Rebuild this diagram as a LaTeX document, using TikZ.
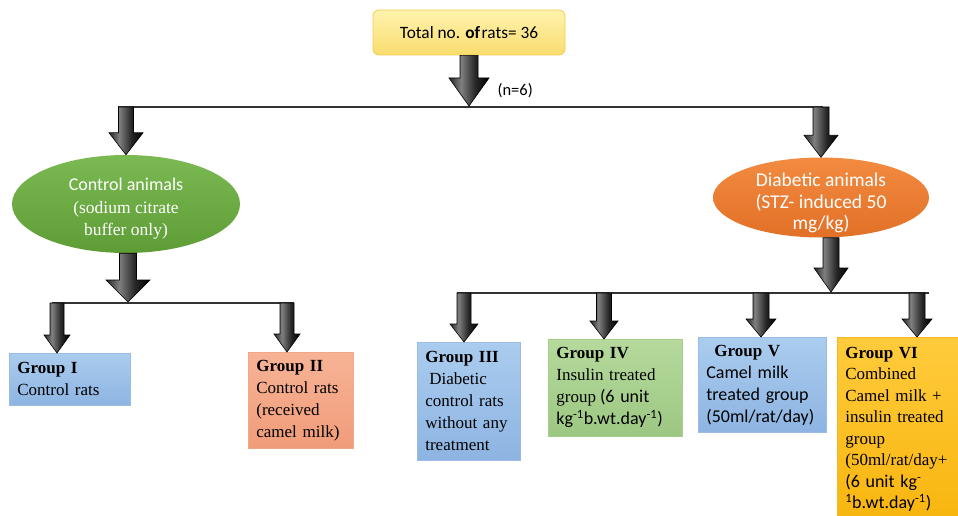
\documentclass[tikz,border=0pt]{standalone}
\usepackage{fontspec}
\setmainfont{Liberation Serif}
\newfontfamily\calibri{Carlito}
\usetikzlibrary{shapes.geometric,calc}
\definecolor{ytop}{HTML}{FFF3AE}
\definecolor{ybot}{HTML}{F9DC6E}
\definecolor{yedge}{HTML}{F0CC50}
\definecolor{gtop}{HTML}{7BBA52}
\definecolor{gbot}{HTML}{5E9C36}
\definecolor{otop}{HTML}{F28B40}
\definecolor{obot}{HTML}{E27027}
\definecolor{btop}{HTML}{AACCEE}
\definecolor{bbot}{HTML}{8DB4E2}
\definecolor{bedge}{HTML}{9BBCE4}
\definecolor{stop}{HTML}{F7B396}
\definecolor{sbot}{HTML}{F09C79}
\definecolor{sedge}{HTML}{F2A886}
\definecolor{lgtop}{HTML}{B5DA9C}
\definecolor{lgbot}{HTML}{9CC782}
\definecolor{lgedge}{HTML}{A6CF8C}
\definecolor{autop}{HTML}{FFCB3C}
\definecolor{aubot}{HTML}{F8B50E}
\definecolor{auedge}{HTML}{F5B82A}
\pgfdeclarehorizontalshading{arrshade}{100bp}{color(0bp)=(black!85); color(25bp)=(black!85);
  color(40bp)=(black!50); color(58bp)=(black!85); color(75bp)=(black); color(100bp)=(black)}
\newcommand\blockarr[5]{%
  \path[arrowshade] let \p1=(#1), \p2=(#2) in
    (\x2-#3pt,\y1) -- (\x2+#3pt,\y1) -- (\x2+#3pt,\y2+#5pt) -- (\x2+#4pt,\y2+#5pt)
    -- (\x2,\y2) -- (\x2-#4pt,\y2+#5pt) -- (\x2-#3pt,\y2+#5pt) -- cycle;}
\tikzset{
  arrowshade/.style={draw=black, line width=0.6pt, shading=arrshade},
  hline/.style={draw=black!80, line width=1.6pt},
  grpbox/.style={anchor=north west, inner xsep=8pt, inner ysep=0pt, align=left,
    font=\fontsize{17}{22}\selectfont, line width=0.7pt},
  bluebox/.style={grpbox, top color=btop, bottom color=bbot, draw=bedge},
  ellnode/.style={ellipse, inner sep=0pt},
  elltext/.style={text=white, align=center, inner sep=0pt},
}
\begin{document}
\begin{tikzpicture}[x=1pt,y=-1pt]
\clip (0,0) rectangle (958,516);
\fill[white] (0,0) rectangle (958,516);
% top box
\node[rounded corners=6pt, top color=ytop, bottom color=ybot, draw=yedge, line width=0.8pt,
  minimum width=192pt, minimum height=45pt, font=\calibri\fontsize{17.3}{20}\selectfont]
  (top) at (469,32.5) {Total no. \textbf{of}\hspace{1.5pt}rats= 36\hspace{-10pt}};
\node[font=\calibri\fontsize{16.5}{20}\selectfont, anchor=west] (nsix) at (494,91) {(n=6)};
% main line
\coordinate (mL) at (118,107);
\coordinate (mR) at (823,107);
\coordinate (m0) at (469,106);
\draw[hline] (mL) -- (mR);
\blockarr{top.south}{m0}{9}{20}{28}
% ellipses
\node[ellnode, top color=gtop, bottom color=gbot, minimum width=228pt, minimum height=98pt,
  label={[elltext, yshift=-5pt, font=\fontsize{17.5}{22.5}\selectfont]center:{{\calibri\fontsize{18}{22.5}\selectfont Control animals}\\(sodium citrate\\buffer only)}}]
  (ctrl) at (126,204) {};
\node[ellnode, top color=otop, bottom color=obot, minimum width=216pt, minimum height=80pt,
  label={[elltext, yshift=-5.5pt, font=\calibri\fontsize{19.5}{21.5}\selectfont]center:{Diabetic animals\\(STZ- induced 50\\mg/kg)}}]
  (diab) at (821,197.5) {};
\blockarr{mL}{ctrl.north}{7.5}{17}{22}
\blockarr{mR}{diab.north}{8}{17}{22}
% sub lines
\coordinate (cl) at (128,302);
\coordinate (dl) at (831,292);
\coordinate (lL) at (52,303);
\coordinate (lR) at (294,303);
\coordinate (rL) at (457,293);
\coordinate (rR) at (929,293);
\draw[hline] (lL) -- (lR);
\draw[hline] (rL) -- (rR);
\blockarr{ctrl.south}{cl}{8.5}{22}{22}
\blockarr{diab.south}{dl}{8}{17}{24}
% group boxes
\node[bluebox, minimum width=121pt, minimum height=52pt, text width=105pt] (g1) at (9,353)
  {\textbf{Group I}\\Control rats};
\node[grpbox, top color=stop, bottom color=sbot, draw=sedge, minimum width=105pt, minimum height=96pt, text width=89pt] (g2) at (248,352)
  {\textbf{Group II}\\Control rats\\(received\\camel milk)};
\node[bluebox, minimum width=103pt, minimum height=118pt, text width=87pt] (g3) at (417,342)
  {\textbf{Group III}\\\hspace{4pt}Diabetic\\control rats\\without any\\treatment};
\node[grpbox, top color=lgtop, bottom color=lgbot, draw=lgedge, minimum width=134pt, minimum height=97pt, text width=118pt] (g4) at (548,339)
  {\textbf{Group IV}\\Insulin treated\\group\hspace{4pt}{\calibri\fontsize{18}{22}\selectfont(6 unit}\\
  {\calibri\fontsize{18}{22}\selectfont kg\textsuperscript{-1}b.wt.day\textsuperscript{-1})}};
\node[bluebox, minimum width=128pt, minimum height=95pt, text width=112pt] (g5) at (698,337)
  {\hspace{8pt}\textbf{Group V}\\{\calibri\fontsize{18}{22}\selectfont Camel milk}\\
  {\calibri\fontsize{18}{22}\selectfont treated group}\\{\calibri\fontsize{18}{22}\selectfont (50ml/rat/day)}};
\node[grpbox, font=\fontsize{17}{21.5}\selectfont, top color=autop, bottom color=aubot, draw=auedge, minimum width=125pt, minimum height=184pt, text width=109pt] (g6) at (837,337)
  {\textbf{Group VI}\\Combined\\Camel milk +\\insulin treated\\group\\(50ml/rat/day+\\
  {\calibri\fontsize{18}{21.5}\selectfont (6 unit kg\textsuperscript{-}}\\
  {\calibri\fontsize{18}{21.5}\selectfont\textsuperscript{1}b.wt.day\textsuperscript{-1})}};
% group arrows
\coordinate (a1) at (57,303);
\coordinate (a2) at (287,303);
\coordinate (a3) at (464,293);
\coordinate (a4) at (604,293);
\coordinate (a5) at (761,293);
\coordinate (a6) at (917,293);
\blockarr{a1}{g1.north -| a1}{7}{13}{18}
\blockarr{a2}{g2.north -| a2}{7}{13}{18}
\blockarr{a3}{g3.north -| a3}{7}{14}{18}
\blockarr{a4}{g4.north -| a4}{7.5}{14}{18}
\blockarr{a5}{g5.north -| a5}{8}{15}{18}
\blockarr{a6}{g6.north -| a6}{8}{15}{18}
\end{tikzpicture}
\end{document}
